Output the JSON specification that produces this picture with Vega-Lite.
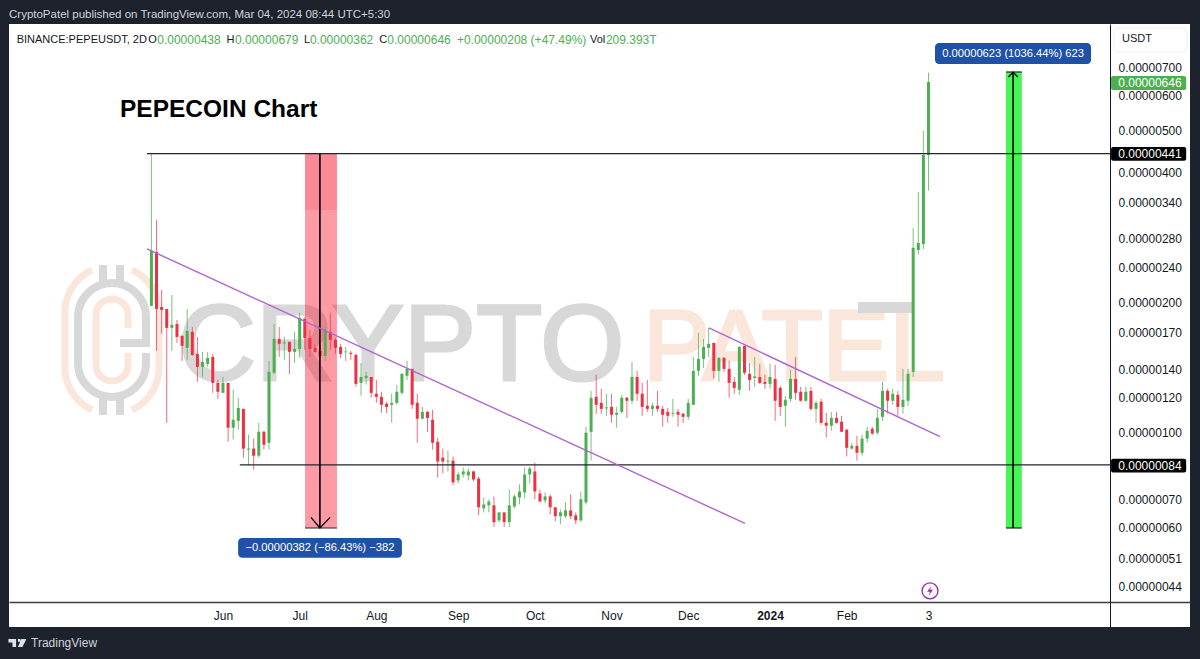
{
"$schema":"https://vega.github.io/schema/vega-lite/v6.json",
"background":"#1e222d",
"autosize":{"type":"none"},
"padding":{"left":9,"top":24,"right":10,"bottom":32},
"width":1181,
"height":603,
"config":{"view":{"fill":"#ffffff","stroke":null},"font":"Liberation Sans"},
"datasets":{
"candles":[
{"d":"2023-05-04","o":196e-8,"h":441e-8,"l":196e-8,"c":263e-8},
{"d":"2023-05-06","o":261.3e-8,"h":309.8e-8,"l":154.2e-8,"c":192.8e-8},
{"d":"2023-05-08","o":194.9e-8,"h":213.4e-8,"l":168.9e-8,"c":191.8e-8},
{"d":"2023-05-10","o":192.8e-8,"h":192.8e-8,"l":105.1e-8,"c":174.3e-8},
{"d":"2023-05-12","o":174.3e-8,"h":207.7e-8,"l":154.2e-8,"c":177.1e-8},
{"d":"2023-05-14","o":178e-8,"h":181.9e-8,"l":160.9e-8,"c":166.1e-8},
{"d":"2023-05-16","o":167e-8,"h":168e-8,"l":146.2e-8,"c":158.4e-8},
{"d":"2023-05-18","o":156.7e-8,"h":192.8e-8,"l":147e-8,"c":171.6e-8},
{"d":"2023-05-20","o":170.7e-8,"h":175.2e-8,"l":150.1e-8,"c":150.9e-8},
{"d":"2023-05-22","o":151.7e-8,"h":166.1e-8,"l":130.7e-8,"c":141.6e-8},
{"d":"2023-05-24","o":141.6e-8,"h":153.4e-8,"l":134.2e-8,"c":145.4e-8},
{"d":"2023-05-26","o":143.9e-8,"h":153.4e-8,"l":141.6e-8,"c":148.5e-8},
{"d":"2023-05-28","o":149.3e-8,"h":151.7e-8,"l":123.3e-8,"c":130e-8},
{"d":"2023-05-30","o":130e-8,"h":132.1e-8,"l":119.4e-8,"c":124e-8},
{"d":"2023-06-01","o":123.3e-8,"h":134.2e-8,"l":123.3e-8,"c":130e-8},
{"d":"2023-06-03","o":130e-8,"h":130e-8,"l":95e-8,"c":102.4e-8},
{"d":"2023-06-05","o":102.4e-8,"h":125.3e-8,"l":96.1e-8,"c":106.8e-8},
{"d":"2023-06-07","o":106.2e-8,"h":120.1e-8,"l":101.3e-8,"c":113.8e-8},
{"d":"2023-06-09","o":113.2e-8,"h":113.2e-8,"l":87.3e-8,"c":91.6e-8},
{"d":"2023-06-11","o":91.1e-8,"h":98.6e-8,"l":83.7e-8,"c":91.6e-8},
{"d":"2023-06-13","o":91.6e-8,"h":96.6e-8,"l":81.9e-8,"c":88.2e-8},
{"d":"2023-06-15","o":88.2e-8,"h":105.1e-8,"l":87.3e-8,"c":100.2e-8},
{"d":"2023-06-17","o":100.2e-8,"h":100.7e-8,"l":91.1e-8,"c":93.5e-8},
{"d":"2023-06-19","o":94.5e-8,"h":146.2e-8,"l":91.1e-8,"c":137.9e-8},
{"d":"2023-06-21","o":137.2e-8,"h":178e-8,"l":136.4e-8,"c":164.4e-8},
{"d":"2023-06-23","o":164.4e-8,"h":175.2e-8,"l":149.3e-8,"c":160.1e-8},
{"d":"2023-06-25","o":160.5e-8,"h":166.1e-8,"l":147e-8,"c":161.3e-8},
{"d":"2023-06-27","o":161.8e-8,"h":161.8e-8,"l":136.4e-8,"c":153.4e-8},
{"d":"2023-06-29","o":153.4e-8,"h":170.7e-8,"l":144.6e-8,"c":155.8e-8},
{"d":"2023-07-01","o":155.8e-8,"h":188.8e-8,"l":148.5e-8,"c":183.8e-8},
{"d":"2023-07-03","o":182.8e-8,"h":184.8e-8,"l":155e-8,"c":165.2e-8},
{"d":"2023-07-05","o":165.2e-8,"h":172.5e-8,"l":149.3e-8,"c":155.8e-8},
{"d":"2023-07-07","o":156.7e-8,"h":159.2e-8,"l":152.6e-8,"c":153.4e-8},
{"d":"2023-07-09","o":154.2e-8,"h":159.2e-8,"l":148.5e-8,"c":150.1e-8},
{"d":"2023-07-11","o":150.1e-8,"h":175.2e-8,"l":146.2e-8,"c":171.6e-8},
{"d":"2023-07-13","o":170.7e-8,"h":188.8e-8,"l":155e-8,"c":163.5e-8},
{"d":"2023-07-15","o":163.5e-8,"h":165.2e-8,"l":151.7e-8,"c":156.7e-8},
{"d":"2023-07-17","o":157.5e-8,"h":160.1e-8,"l":148.5e-8,"c":151.7e-8},
{"d":"2023-07-19","o":153.1e-8,"h":157.5e-8,"l":146.2e-8,"c":153.6e-8},
{"d":"2023-07-21","o":152.6e-8,"h":154.2e-8,"l":147e-8,"c":151.7e-8},
{"d":"2023-07-23","o":150.9e-8,"h":151.7e-8,"l":127.3e-8,"c":129.3e-8},
{"d":"2023-07-25","o":130e-8,"h":144.6e-8,"l":121.4e-8,"c":134.2e-8},
{"d":"2023-07-27","o":133.5e-8,"h":137.9e-8,"l":128.7e-8,"c":135e-8},
{"d":"2023-07-29","o":134.2e-8,"h":134.2e-8,"l":120.1e-8,"c":123.3e-8},
{"d":"2023-07-31","o":122.7e-8,"h":132.1e-8,"l":116.9e-8,"c":120.7e-8},
{"d":"2023-08-02","o":120.7e-8,"h":124e-8,"l":110.8e-8,"c":115.7e-8},
{"d":"2023-08-04","o":116.3e-8,"h":117.6e-8,"l":110.8e-8,"c":114.4e-8},
{"d":"2023-08-06","o":115.7e-8,"h":122.7e-8,"l":105.1e-8,"c":116.9e-8},
{"d":"2023-08-08","o":116.9e-8,"h":128.7e-8,"l":115.7e-8,"c":124e-8},
{"d":"2023-08-10","o":123.3e-8,"h":137.2e-8,"l":122e-8,"c":136.4e-8},
{"d":"2023-08-12","o":135e-8,"h":146.2e-8,"l":132.1e-8,"c":140.1e-8},
{"d":"2023-08-14","o":140.1e-8,"h":140.1e-8,"l":113.2e-8,"c":115.7e-8},
{"d":"2023-08-16","o":116.9e-8,"h":122.7e-8,"l":94.5e-8,"c":107.4e-8},
{"d":"2023-08-18","o":107.4e-8,"h":114.4e-8,"l":107.4e-8,"c":111.4e-8},
{"d":"2023-08-20","o":111.4e-8,"h":112e-8,"l":100.2e-8,"c":107.9e-8},
{"d":"2023-08-22","o":106.8e-8,"h":112.6e-8,"l":91.1e-8,"c":94.5e-8},
{"d":"2023-08-24","o":95e-8,"h":97.1e-8,"l":78.5e-8,"c":85.5e-8},
{"d":"2023-08-26","o":87.3e-8,"h":91.6e-8,"l":80.2e-8,"c":85.5e-8},
{"d":"2023-08-28","o":85.5e-8,"h":90.6e-8,"l":81.1e-8,"c":85.9e-8},
{"d":"2023-08-30","o":85.9e-8,"h":87.8e-8,"l":75.3e-8,"c":76.5e-8},
{"d":"2023-09-01","o":77.3e-8,"h":81.1e-8,"l":76.1e-8,"c":79.8e-8},
{"d":"2023-09-03","o":79.8e-8,"h":82.8e-8,"l":78.5e-8,"c":81.1e-8},
{"d":"2023-09-05","o":79.4e-8,"h":82.4e-8,"l":77.3e-8,"c":81.1e-8},
{"d":"2023-09-07","o":81.1e-8,"h":81.5e-8,"l":76.9e-8,"c":77.7e-8},
{"d":"2023-09-09","o":78.1e-8,"h":78.9e-8,"l":64.2e-8,"c":67e-8},
{"d":"2023-09-11","o":66.6e-8,"h":70.6e-8,"l":65.2e-8,"c":68e-8},
{"d":"2023-09-13","o":67.7e-8,"h":69.9e-8,"l":65.2e-8,"c":69.1e-8},
{"d":"2023-09-15","o":67.7e-8,"h":71e-8,"l":60.3e-8,"c":61.9e-8},
{"d":"2023-09-17","o":62.5e-8,"h":65.2e-8,"l":61.9e-8,"c":65.2e-8},
{"d":"2023-09-19","o":65.2e-8,"h":65.2e-8,"l":60.3e-8,"c":61.9e-8},
{"d":"2023-09-21","o":61.9e-8,"h":73.7e-8,"l":60.3e-8,"c":67.7e-8},
{"d":"2023-09-23","o":67.3e-8,"h":71.8e-8,"l":66.6e-8,"c":71e-8},
{"d":"2023-09-25","o":70.6e-8,"h":75.7e-8,"l":68e-8,"c":72.9e-8},
{"d":"2023-09-27","o":72.5e-8,"h":82.8e-8,"l":70.2e-8,"c":79.8e-8},
{"d":"2023-09-29","o":79.8e-8,"h":83.2e-8,"l":76.1e-8,"c":82.4e-8},
{"d":"2023-10-01","o":81.1e-8,"h":85e-8,"l":69.9e-8,"c":72.9e-8},
{"d":"2023-10-03","o":72.1e-8,"h":73.7e-8,"l":68.8e-8,"c":69.1e-8},
{"d":"2023-10-05","o":69.5e-8,"h":72.5e-8,"l":68.4e-8,"c":71e-8},
{"d":"2023-10-07","o":71e-8,"h":71.8e-8,"l":64.5e-8,"c":67e-8},
{"d":"2023-10-09","o":67e-8,"h":67e-8,"l":62.2e-8,"c":63.9e-8},
{"d":"2023-10-11","o":63.9e-8,"h":66.3e-8,"l":61.2e-8,"c":65.2e-8},
{"d":"2023-10-13","o":63.9e-8,"h":68.8e-8,"l":63.2e-8,"c":65.9e-8},
{"d":"2023-10-15","o":65.9e-8,"h":71.8e-8,"l":62.9e-8,"c":63.9e-8},
{"d":"2023-10-17","o":64.2e-8,"h":65.2e-8,"l":61.2e-8,"c":62.5e-8},
{"d":"2023-10-19","o":62.5e-8,"h":72.9e-8,"l":61.9e-8,"c":69.9e-8},
{"d":"2023-10-21","o":68.8e-8,"h":102.9e-8,"l":68e-8,"c":99.7e-8},
{"d":"2023-10-23","o":100.2e-8,"h":124.6e-8,"l":85.9e-8,"c":120.1e-8},
{"d":"2023-10-25","o":120.7e-8,"h":135.7e-8,"l":110.3e-8,"c":115.7e-8},
{"d":"2023-10-27","o":116.9e-8,"h":126e-8,"l":110.3e-8,"c":113.2e-8},
{"d":"2023-10-29","o":113.5e-8,"h":122.7e-8,"l":109.1e-8,"c":114.1e-8},
{"d":"2023-10-31","o":114.4e-8,"h":122.7e-8,"l":105.1e-8,"c":109.7e-8},
{"d":"2023-11-02","o":109.7e-8,"h":114.4e-8,"l":102.4e-8,"c":110.8e-8},
{"d":"2023-11-04","o":111.4e-8,"h":122e-8,"l":110.3e-8,"c":120.1e-8},
{"d":"2023-11-06","o":120.1e-8,"h":120.7e-8,"l":107.9e-8,"c":118.2e-8},
{"d":"2023-11-08","o":118.2e-8,"h":145.4e-8,"l":116.3e-8,"c":134.2e-8},
{"d":"2023-11-10","o":134.2e-8,"h":138.6e-8,"l":118.2e-8,"c":122.7e-8},
{"d":"2023-11-12","o":122.7e-8,"h":130e-8,"l":109.1e-8,"c":114.4e-8},
{"d":"2023-11-14","o":115.1e-8,"h":132.1e-8,"l":111.4e-8,"c":113.2e-8},
{"d":"2023-11-16","o":113.2e-8,"h":116.9e-8,"l":109.1e-8,"c":115.1e-8},
{"d":"2023-11-18","o":115.1e-8,"h":124.6e-8,"l":111.4e-8,"c":113.2e-8},
{"d":"2023-11-20","o":113.2e-8,"h":115.1e-8,"l":102.9e-8,"c":109.7e-8},
{"d":"2023-11-22","o":111.4e-8,"h":113.8e-8,"l":105.1e-8,"c":109.1e-8},
{"d":"2023-11-24","o":110.3e-8,"h":119.4e-8,"l":108.5e-8,"c":110.8e-8},
{"d":"2023-11-26","o":111.4e-8,"h":113.2e-8,"l":102.9e-8,"c":109.7e-8},
{"d":"2023-11-28","o":110.3e-8,"h":110.8e-8,"l":105.1e-8,"c":108.5e-8},
{"d":"2023-11-30","o":108.5e-8,"h":119.4e-8,"l":106.8e-8,"c":116.9e-8},
{"d":"2023-12-02","o":115.7e-8,"h":149.3e-8,"l":115.7e-8,"c":138.6e-8},
{"d":"2023-12-04","o":138.6e-8,"h":169.8e-8,"l":135e-8,"c":147.7e-8},
{"d":"2023-12-06","o":147.7e-8,"h":164.4e-8,"l":140.8e-8,"c":157.5e-8},
{"d":"2023-12-08","o":156.7e-8,"h":174.3e-8,"l":149.3e-8,"c":160.1e-8},
{"d":"2023-12-10","o":160.9e-8,"h":160.9e-8,"l":132.8e-8,"c":138.6e-8},
{"d":"2023-12-12","o":138.6e-8,"h":149.3e-8,"l":130.7e-8,"c":148.5e-8},
{"d":"2023-12-14","o":148.5e-8,"h":149.3e-8,"l":137.9e-8,"c":140.1e-8},
{"d":"2023-12-16","o":140.1e-8,"h":146.2e-8,"l":120.1e-8,"c":130e-8},
{"d":"2023-12-18","o":130.7e-8,"h":134.2e-8,"l":122.7e-8,"c":126.6e-8},
{"d":"2023-12-20","o":125.3e-8,"h":158.4e-8,"l":122e-8,"c":157.5e-8},
{"d":"2023-12-22","o":158.4e-8,"h":158.4e-8,"l":135.7e-8,"c":137.2e-8},
{"d":"2023-12-24","o":136.4e-8,"h":144.6e-8,"l":124.6e-8,"c":132.1e-8},
{"d":"2023-12-26","o":133.5e-8,"h":149.3e-8,"l":127.3e-8,"c":134.6e-8},
{"d":"2023-12-28","o":134.2e-8,"h":143.9e-8,"l":129.3e-8,"c":130e-8},
{"d":"2023-12-30","o":130.7e-8,"h":135.7e-8,"l":126e-8,"c":129.3e-8},
{"d":"2024-01-01","o":129.3e-8,"h":143.9e-8,"l":126e-8,"c":134.2e-8},
{"d":"2024-01-03","o":132.8e-8,"h":143.1e-8,"l":106.2e-8,"c":118.2e-8},
{"d":"2024-01-05","o":126.6e-8,"h":128e-8,"l":109.1e-8,"c":114.4e-8},
{"d":"2024-01-07","o":115.1e-8,"h":121.4e-8,"l":102.9e-8,"c":118.8e-8},
{"d":"2024-01-09","o":119.4e-8,"h":139.4e-8,"l":117.6e-8,"c":132.8e-8},
{"d":"2024-01-11","o":132.8e-8,"h":149.3e-8,"l":118.8e-8,"c":123.3e-8},
{"d":"2024-01-13","o":124e-8,"h":127.3e-8,"l":117.6e-8,"c":118.2e-8},
{"d":"2024-01-15","o":118.2e-8,"h":127.3e-8,"l":117.6e-8,"c":124e-8},
{"d":"2024-01-17","o":124.6e-8,"h":127.3e-8,"l":112e-8,"c":113.2e-8},
{"d":"2024-01-19","o":113.2e-8,"h":118.2e-8,"l":105.1e-8,"c":116.9e-8},
{"d":"2024-01-21","o":117.6e-8,"h":119.4e-8,"l":104e-8,"c":105.1e-8},
{"d":"2024-01-23","o":105.1e-8,"h":110.8e-8,"l":97.1e-8,"c":103.5e-8},
{"d":"2024-01-25","o":103.5e-8,"h":111.4e-8,"l":100.7e-8,"c":107.9e-8},
{"d":"2024-01-27","o":107.9e-8,"h":111.4e-8,"l":104.6e-8,"c":105.1e-8},
{"d":"2024-01-29","o":105.7e-8,"h":109.1e-8,"l":100.2e-8,"c":100.2e-8},
{"d":"2024-01-31","o":101.3e-8,"h":101.8e-8,"l":87.8e-8,"c":92e-8},
{"d":"2024-02-02","o":91.6e-8,"h":94.5e-8,"l":91.1e-8,"c":93e-8},
{"d":"2024-02-04","o":93e-8,"h":98.1e-8,"l":85.9e-8,"c":89.6e-8},
{"d":"2024-02-06","o":89.6e-8,"h":98.6e-8,"l":88.2e-8,"c":96.6e-8},
{"d":"2024-02-08","o":96.6e-8,"h":102.9e-8,"l":94.5e-8,"c":100.7e-8},
{"d":"2024-02-10","o":101.8e-8,"h":102.9e-8,"l":98.6e-8,"c":99.2e-8},
{"d":"2024-02-12","o":99.7e-8,"h":113.2e-8,"l":98.6e-8,"c":107.9e-8},
{"d":"2024-02-14","o":108.5e-8,"h":130.7e-8,"l":106.2e-8,"c":124.6e-8},
{"d":"2024-02-16","o":124.6e-8,"h":126e-8,"l":110.3e-8,"c":118.2e-8},
{"d":"2024-02-18","o":118.2e-8,"h":126e-8,"l":115.7e-8,"c":122.7e-8},
{"d":"2024-02-20","o":122e-8,"h":124.6e-8,"l":109.1e-8,"c":114.4e-8},
{"d":"2024-02-22","o":114.4e-8,"h":140.1e-8,"l":110.3e-8,"c":118.8e-8},
{"d":"2024-02-24","o":118.2e-8,"h":140.1e-8,"l":115.1e-8,"c":136.4e-8},
{"d":"2024-02-26","o":137.9e-8,"h":297e-8,"l":134.2e-8,"c":267e-8},
{"d":"2024-02-28","o":264e-8,"h":360e-8,"l":258e-8,"c":274e-8},
{"d":"2024-03-01","o":272.5e-8,"h":498e-8,"l":265.5e-8,"c":438e-8},
{"d":"2024-03-03","o":438e-8,"h":679e-8,"l":362e-8,"c":646e-8}
]
},
"encoding":{
"x":{"field":"d","type":"temporal","scale":{"type":"utc","nice":false,"padding":0,"domain":["2023-03-09T07:00:00Z","2024-06-13T07:00:00Z"]},
  "axis":{"orient":"bottom","offset":-25,"title":null,"grid":false,"ticks":false,"domainColor":"#3a3d45","domainWidth":1.3,
   "values":[{"year":2023,"month":6,"date":1,"utc":true},{"year":2023,"month":7,"date":1,"utc":true},{"year":2023,"month":7,"date":31,"utc":true},{"year":2023,"month":9,"date":1,"utc":true},{"year":2023,"month":10,"date":1,"utc":true},{"year":2023,"month":10,"date":31,"utc":true},{"year":2023,"month":11,"date":30,"utc":true},{"year":2024,"month":1,"date":1,"utc":true},{"year":2024,"month":1,"date":31,"utc":true},{"year":2024,"month":3,"date":3,"utc":true}],
   "labelExpr":"utcmonth(datum.value)==2?'3':(utcmonth(datum.value)==0&&utcdate(datum.value)==1)?'2024':utcFormat(datum.value+259200000,'%b')",
   "labelFontWeight":{"condition":{"test":"utcmonth(datum.value)==0&&utcdate(datum.value)==1","value":"bold"},"value":"normal"},
   "labelFontSize":12,"labelColor":"#131722","labelPadding":8,"labelOverlap":false,"labelBound":false,"labelFlush":false}},
"x2":{"field":"d2"},
"y":{"field":"p","type":"quantitative","scale":{"type":"log","nice":false,"domain":[35.4e-8,880.3e-8]},
  "axis":{"orient":"right","offset":-80,"title":null,"grid":false,"ticks":false,"domainColor":"#131722","domainWidth":1,
   "values":[700e-8,600e-8,500e-8,400e-8,340e-8,280e-8,240e-8,200e-8,170e-8,140e-8,120e-8,100e-8,70e-8,60e-8,51e-8,44e-8],
   "format":".8f","labelFontSize":12,"labelColor":"#131722","labelPadding":8,"labelOverlap":false,"labelBound":false,"labelFlush":false}},
"y2":{"field":"p2"}
},
"layer":[
{"data":{"values":[{"d":"2023-05-14T10:00:00Z","p":132.1e-8,"t":"CRYPTO"}]},
 "mark":{"type":"text","align":"left","baseline":"alphabetic","fontSize":108,"color":"#d8d8d8","stroke":"#d8d8d8","strokeWidth":3},
 "encoding":{"x2":null,"y2":null,"text":{"field":"t"}}},
{"data":{"values":[{"d":"2023-11-12T07:00:00Z","p":132.1e-8,"t":"PATEL"}]},
 "mark":{"type":"text","align":"left","baseline":"alphabetic","fontSize":100,"color":"#fbe6db","stroke":"#fbe6db","strokeWidth":3},
 "encoding":{"x2":null,"y2":null,"text":{"field":"t"}}},
{"data":{"values":[{"d":"2024-02-04T10:00:00Z","d2":"2024-02-25T14:00:00Z","p":200e-8,"p2":188.8e-8}]},
 "mark":{"type":"rect","color":"#d8d8d8"}},
{"data":{"values":[{"d":"2023-04-18T14:00:00Z","p":163.5e-8}]},
 "mark":{"type":"point","filled":false,"size":25600,"color":"#fbe6db","opacity":1,"strokeWidth":7,"shape":"M-.25 -.875 A.5875 .5875 0 0 0 -.5875 -.3125 L-.5875 .3125 A.5875 .5875 0 0 0 -.25 .875 M.25 -.875 A.5875 .5875 0 0 1 .5875 -.3125 L.5875 .3125 A.5875 .5875 0 0 1 .25 .875 M.2 -.15 L.2 -.3125 A.2 .2 0 0 0 -.2 -.3125 L-.2 .3125 A.2 .2 0 0 0 .2 .3125 L.2 .1625"},
 "encoding":{"x2":null,"y2":null}},
{"data":{"values":[{"d":"2023-04-18T14:00:00Z","p":163.5e-8}]},
 "mark":{"type":"point","filled":false,"size":25600,"color":"#d8d8d8","opacity":1,"strokeWidth":8,"shape":"M.1 .0375 L.425 .0375 L.425 -.2875 A.425 .425 0 0 0 -.425 -.2875 L-.425 .2875 A.425 .425 0 0 0 .425 .2875 L.425 .1625 M-.1125 -.9375 L-.1125 -.7125 M.1 -.9375 L.1 -.7125 M-.1125 .9375 L-.1125 .7125 M.1 .9375 L.1 .7125"},
 "encoding":{"x2":null,"y2":null}},
{"data":{"values":[{"d":"2023-07-03T02:00:00Z","d2":"2023-07-15T14:00:00Z","p":441e-8,"p2":326.8e-8}]},
 "mark":{"type":"rect","color":"#f7152f","opacity":0.5}},
{"data":{"values":[{"d":"2023-07-03T02:00:00Z","d2":"2023-07-15T14:00:00Z","p":326.8e-8,"p2":60e-8}]},
 "mark":{"type":"rect","color":"#f7152f","opacity":0.43}},
{"data":{"values":[{"d":"2024-04-02T07:00:00Z","d2":"2024-04-08T12:00:00Z","p":681.6e-8,"p2":60e-8}]},
 "mark":{"type":"rect","color":"#45f455"}},
{"data":{"name":"candles"},
 "mark":{"type":"rule","strokeWidth":1,"opacity":0.75},
 "encoding":{
 "x2":null,
 "y":{"field":"l","type":"quantitative","scale":{"type":"log","nice":false,"domain":[35.4e-8,880.3e-8]},
  "axis":{"orient":"right","offset":-80,"title":null,"grid":false,"ticks":false,"domainColor":"#131722","domainWidth":1,
   "values":[700e-8,600e-8,500e-8,400e-8,340e-8,280e-8,240e-8,200e-8,170e-8,140e-8,120e-8,100e-8,70e-8,60e-8,51e-8,44e-8],
   "format":".8f","labelFontSize":12,"labelColor":"#131722","labelPadding":8,"labelOverlap":false,"labelBound":false,"labelFlush":false}},
 "y2":{"field":"h"},
 "color":{"condition":{"test":"datum.c>=datum.o","value":"#4caf50"},"value":"#ee3a4c"}}},
{"data":{"name":"candles"},
 "mark":{"type":"bar","size":3},
 "encoding":{
 "x2":null,
 "y":{"field":"o","type":"quantitative","scale":{"type":"log","nice":false,"domain":[35.4e-8,880.3e-8]},
  "axis":{"orient":"right","offset":-80,"title":null,"grid":false,"ticks":false,"domainColor":"#131722","domainWidth":1,
   "values":[700e-8,600e-8,500e-8,400e-8,340e-8,280e-8,240e-8,200e-8,170e-8,140e-8,120e-8,100e-8,70e-8,60e-8,51e-8,44e-8],
   "format":".8f","labelFontSize":12,"labelColor":"#131722","labelPadding":8,"labelOverlap":false,"labelBound":false,"labelFlush":false}},
 "y2":{"field":"c"},
 "color":{"condition":{"test":"datum.c>=datum.o","value":"#4caf50"},"value":"#ee2f44"}}},
{"data":{"values":[
 {"d":"2023-05-02T07:00:00Z","d2":"2024-05-13T00:00:00Z","p":441e-8},
 {"d":"2023-06-07T14:00:00Z","d2":"2024-05-13T00:00:00Z","p":84e-8},
 {"d":"2023-07-03T02:00:00Z","d2":"2023-07-15T14:00:00Z","p":60e-8},
 {"d":"2024-04-02T07:00:00Z","d2":"2024-04-08T12:00:00Z","p":60e-8},
 {"d":"2024-04-02T07:00:00Z","d2":"2024-04-08T12:00:00Z","p":681.6e-8}]},
 "mark":{"type":"rule","color":"#23252c","strokeWidth":1.2},
 "encoding":{"y2":null}},
{"data":{"values":[
 {"d":"2023-07-08T22:00:00Z","p":441e-8,"p2":60e-8},
 {"d":"2024-04-05T02:00:00Z","p":681.6e-8,"p2":60e-8}]},
 "mark":{"type":"rule","color":"#000000","strokeWidth":1.6},
 "encoding":{"x2":null}},
{"data":{"values":[
 {"k":"a","d":"2023-07-05T10:00:00Z","p":63.5e-8},{"k":"a","d":"2023-07-08T22:00:00Z","p":60e-8},{"k":"a","d":"2023-07-12T22:00:00Z","p":63.5e-8},
 {"k":"b","d":"2024-04-03T06:00:00Z","p":663.7e-8},{"k":"b","d":"2024-04-05T02:00:00Z","p":681.6e-8},{"k":"b","d":"2024-04-06T22:00:00Z","p":663.7e-8}]},
 "mark":{"type":"line","color":"#000000","strokeWidth":1.2},
 "encoding":{"x2":null,"y2":null,"detail":{"field":"k"}}},
{"data":{"values":[
 {"k":"a","d":"2023-05-02T07:00:00Z","p":265.5e-8},{"k":"a","d":"2023-12-22T05:00:00Z","p":61.5e-8},
 {"k":"b","d":"2023-12-08T02:00:00Z","p":174.3e-8},{"k":"b","d":"2024-03-07T12:00:00Z","p":97.6e-8}]},
 "mark":{"type":"line","color":"#b065cf","strokeWidth":1.4},
 "encoding":{"x2":null,"y2":null,"detail":{"field":"k"}}},
{"data":{"values":[{"d":"2024-03-03T14:00:00Z","p":42.9e-8}]},
 "mark":{"type":"point","shape":"circle","filled":false,"size":254,"color":"#9c27b0","opacity":1,"strokeWidth":1.3},
 "encoding":{"x2":null,"y2":null}},
{"data":{"values":[{"d":"2024-03-03T14:00:00Z","p":42.9e-8}]},
 "mark":{"type":"point","filled":true,"size":100,"color":"#9c27b0","opacity":1,"shape":"M.3 -1 L-.6 .15 L0 .15 L-.3 1 L.6 -.25 L0 -.25 Z"},
 "encoding":{"x2":null,"y2":null}},
{"data":{"values":[
 {"d":"2024-03-05T13:00:00Z","d2":"2024-05-05T14:00:00Z","p":795.5e-8,"p2":711.3e-8},
 {"d":"2023-06-06T22:00:00Z","d2":"2023-08-10T00:00:00Z","p":56.9e-8,"p2":51.2e-8}]},
 "mark":{"type":"rect","color":"#1f52a6","cornerRadius":4}},
{"data":{"values":[
 {"d":"2024-04-05T02:00:00Z","p":752.2e-8,"t":"0.00000623 (1036.44%) 623"},
 {"d":"2023-07-08T22:00:00Z","p":54e-8,"t":"−0.00000382 (−86.43%) −382"}]},
 "mark":{"type":"text","align":"center","baseline":"middle","fontSize":11.2,"color":"#ffffff"},
 "encoding":{"x2":null,"y2":null,"text":{"field":"t"}}},
{"data":{"values":[{"d":"2024-05-13T10:00:00Z","d2":"2024-06-11T19:00:00Z","p":667.2e-8,"p2":619e-8}]},
 "mark":{"type":"rect","color":"#4caf50","cornerRadius":2}},
{"data":{"values":[
 {"d":"2024-05-13T10:00:00Z","d2":"2024-06-11T19:00:00Z","p":457e-8,"p2":424.5e-8},
 {"d":"2024-05-13T10:00:00Z","d2":"2024-06-11T19:00:00Z","p":86.8e-8,"p2":80.6e-8}]},
 "mark":{"type":"rect","color":"#000000","cornerRadius":2}},
{"data":{"values":[
 {"d":"2024-05-16T05:00:00Z","p":643e-8,"t":"0.00000646"},
 {"d":"2024-05-16T05:00:00Z","p":441e-8,"t":"0.00000441"},
 {"d":"2024-05-16T05:00:00Z","p":83.7e-8,"t":"0.00000084"}]},
 "mark":{"type":"text","align":"left","baseline":"middle","fontSize":12,"color":"#ffffff"},
 "encoding":{"x2":null,"y2":null,"text":{"field":"t"}}},
{"data":{"values":[{"d":"2024-05-14T14:00:00Z","d2":"2024-06-12T05:00:00Z","p":861.7e-8,"p2":758.2e-8}]},
 "mark":{"type":"rect","fill":"#ffffff","stroke":"#eceef2","strokeWidth":1,"cornerRadius":4}},
{"data":{"values":[
 {"d":"2024-05-17T17:00:00Z","p":812.6e-8,"t":"USDT"},
 {"d":"2023-03-12T07:00:00Z","p":808e-8,"t":"BINANCE:PEPEUSDT, 2D"},
 {"d":"2023-05-02T19:00:00Z","p":808e-8,"t":"O"},
 {"d":"2023-06-02T10:00:00Z","p":808e-8,"t":"H"},
 {"d":"2023-07-02T17:00:00Z","p":808e-8,"t":"L"},
 {"d":"2023-08-01T02:00:00Z","p":808e-8,"t":"C"},
 {"d":"2023-10-22T14:00:00Z","p":808e-8,"t":"Vol"}]},
 "mark":{"type":"text","align":"left","baseline":"middle","fontSize":11,"color":"#131722"},
 "encoding":{"x2":null,"y2":null,"text":{"field":"t"}}},
{"data":{"values":[
 {"d":"2023-05-06T07:00:00Z","p":808e-8,"t":"0.00000438"},
 {"d":"2023-06-05T17:00:00Z","p":808e-8,"t":"0.00000679"},
 {"d":"2023-07-05T00:00:00Z","p":808e-8,"t":"0.00000362"},
 {"d":"2023-08-04T07:00:00Z","p":808e-8,"t":"0.00000646"},
 {"d":"2023-08-31T12:00:00Z","p":808e-8,"t":"+0.00000208 (+47.49%)"},
 {"d":"2023-10-28T19:00:00Z","p":808e-8,"t":"209.393T"}]},
 "mark":{"type":"text","align":"left","baseline":"middle","fontSize":12,"color":"#4caf50"},
 "encoding":{"x2":null,"y2":null,"text":{"field":"t"}}},
{"data":{"values":[{"d":"2023-04-21T17:00:00Z","p":556.7e-8,"t":"PEPECOIN Chart"}]},
 "mark":{"type":"text","align":"left","baseline":"middle","fontSize":24.5,"fontWeight":"bold","color":"#000000"},
 "encoding":{"x2":null,"y2":null,"text":{"field":"t"}}},
{"data":{"values":[{"d":"2023-03-09T07:00:00Z","p":926e-8,"t":"CryptoPatel published on TradingView.com, Mar 04, 2024 08:44 UTC+5:30"}]},
 "mark":{"type":"text","align":"left","baseline":"middle","fontSize":11.5,"color":"#d1d4dc"},
 "encoding":{"x2":null,"y2":null,"text":{"field":"t"}}},
{"data":{"values":[{"d":"2023-03-17T22:00:00Z","p":32.5e-8,"t":"TradingView"}]},
 "mark":{"type":"text","align":"left","baseline":"middle","fontSize":12,"fontWeight":500,"color":"#d1d4dc"},
 "encoding":{"x2":null,"y2":null,"text":{"field":"t"}}},
{"data":{"values":[{"d":"2023-03-12T14:00:00Z","p":32.5e-8}]},
 "mark":{"type":"point","filled":true,"size":324,"color":"#dfe1e6","opacity":1,"shape":"M-1 -.45 H-.15 V.45 H-.55 V-.05 H-1 Z M.05 -.45 H.35 V-.15 H.05 Z M.45 -.45 H1 L.55 .45 H.05 Z"},
 "encoding":{"x2":null,"y2":null}}
]
}
